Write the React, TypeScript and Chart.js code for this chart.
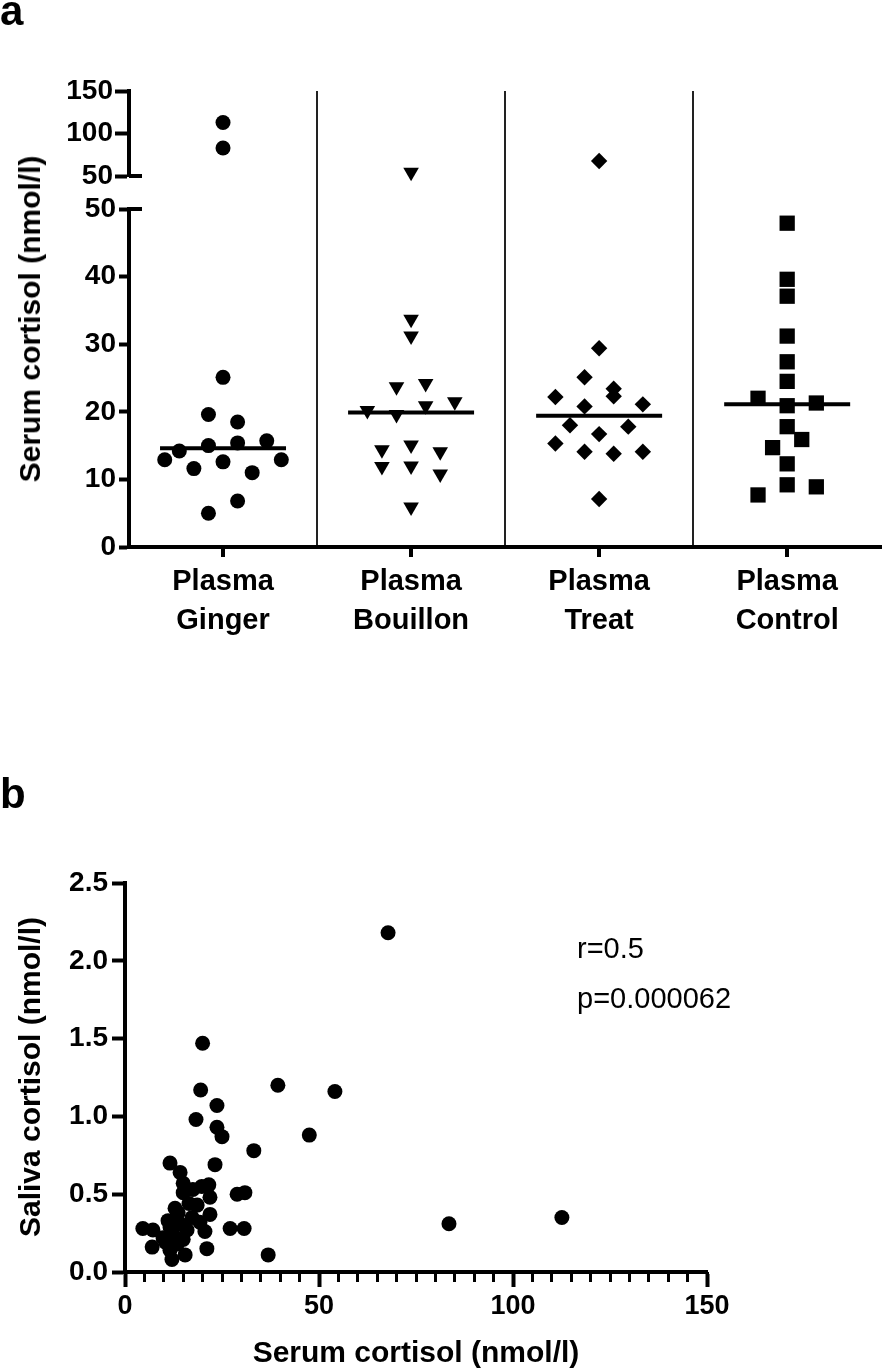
import React, { useEffect, useRef } from 'react';
import { Chart, registerables } from 'chart.js';

Chart.register(...registerables);
Chart.defaults.font.family = "'Liberation Sans', Arial, sans-serif";
Chart.defaults.color = '#000';

// ---------- Panel a data ----------
const groupNames = ['Plasma Ginger', 'Plasma Bouillon', 'Plasma Treat', 'Plasma Control'];
const gingerSerum = [5.0, 6.8, 12.9, 11.6, 12.6, 11.0, 12.9, 14.2, 15.0, 15.4, 15.7, 19.6, 18.5, 25.1, 83.0, 113.0];
const bouillonSerum = [5.9, 11.9, 12.0, 10.8, 14.4, 15.1, 14.1, 20.2, 19.6, 20.9, 21.5, 23.7, 24.2, 31.2, 33.7, 54.5];
const treatSerum = [7.1, 15.3, 14.1, 13.8, 14.1, 18.0, 16.7, 17.8, 22.2, 20.8, 22.3, 21.1, 25.1, 23.4, 29.4, 67.6];
const controlSerum = [7.7, 9.2, 8.9, 12.3, 14.7, 15.9, 17.8, 22.0, 20.9, 21.3, 24.5, 27.4, 31.2, 37.1, 39.6, 47.9];
const groupValues = [gingerSerum, bouillonSerum, treatSerum, controlSerum];
const topTicksA = [50, 100, 150];
const bottomTicksA = [0, 10, 20, 30, 40, 50];

// ---------- Panel b data ----------
const scatterSerum = [
  67.8, 112.6, 83.5, 39.4, 54.1, 47.5, 33.2, 36.9, 20.0, 19.5,
  23.7, 18.3, 23.7, 25.0, 23.2, 11.6, 14.2, 28.9, 30.9, 27.1,
  30.7, 21.6, 17.5, 15.0, 21.9, 18.6, 12.9, 21.9, 17.3, 11.1,
  14.2, 4.6, 7.2, 20.6, 12.4, 9.8, 15.0, 7.0, 21.1, 11.6,
  15.5, 12.1, 13.5, 15.0, 19.8, 13.7, 11.6, 16.0, 13.4, 10.5,
  16.5, 19.3,
];
const scatterSaliva = [
  2.18, 0.35, 0.31, 1.20, 1.16, 0.88, 0.78, 0.11, 1.47, 1.17,
  1.07, 0.98, 0.93, 0.87, 0.69, 0.70, 0.64, 0.50, 0.51, 0.28,
  0.28, 0.56, 0.53, 0.51, 0.48, 0.43, 0.41, 0.37, 0.35, 0.33,
  0.31, 0.28, 0.27, 0.26, 0.24, 0.22, 0.21, 0.16, 0.15, 0.14,
  0.11, 0.08, 0.18, 0.57, 0.55, 0.38, 0.29, 0.27, 0.21, 0.19,
  0.44, 0.32,
];
const corrText = ['r=0.5', 'p=0.000062'];

// ---------- helpers ----------
const BREAK_AT = 50;
const LOW_H = 338;
const GAP_H = 33;
const TOP_H = 85;
const toPx = (v: number) =>
  v <= BREAK_AT ? (v * LOW_H) / BREAK_AT : LOW_H + GAP_H + ((v - BREAK_AT) * TOP_H) / 100;

function swarmOffsets(values: number[], step: number, rowPx: number): number[] {
  const idx = values.map((_, i) => i).sort((a, b) => values[a] - values[b]);
  const offsets = new Array(values.length).fill(0);
  let row: number[] = [];
  const flush = () => {
    const r = [...row].sort((a, b) => a - b);
    r.forEach((k, j) => (offsets[k] = (j - (r.length - 1) / 2) * step));
    row = [];
  };
  for (const k of idx) {
    if (row.length && toPx(values[k]) - toPx(values[row[0]]) >= rowPx) flush();
    row.push(k);
  }
  if (row.length) flush();
  return offsets;
}

const median = (a: number[]) => {
  const s = [...a].sort((p, q) => p - q);
  const n = s.length;
  return n % 2 ? s[(n - 1) / 2] : (s[n / 2 - 1] + s[n / 2]) / 2;
};

const markerStyle = ['circle', 'triangle', 'rectRot', 'rect'];
const markerRotation = [0, 180, 0, 0];
const markerRadius = [7.5, 9, 8.2, 10.8];

export default function App() {
  const refA = useRef<HTMLCanvasElement>(null);
  const refB = useRef<HTMLCanvasElement>(null);

  useEffect(() => {
    const datasetsA: any[] = [];
    groupValues.forEach((vals, i) => {
      const offs = swarmOffsets(vals, 0.155, 16);
      const low: any[] = [];
      const high: any[] = [];
      vals.forEach((v, k) => {
        const p = { x: i + offs[k], y: v };
        if (v <= BREAK_AT) low.push(p);
        else high.push(p);
      });
      const common = {
        type: 'scatter',
        backgroundColor: '#000',
        borderColor: '#000',
        borderWidth: 0,
        pointStyle: markerStyle[i],
        rotation: markerRotation[i],
        pointRadius: markerRadius[i],
        pointHoverRadius: markerRadius[i],
        clip: false,
      };
      datasetsA.push({ ...common, data: low, xAxisID: 'x', yAxisID: 'yBot' });
      datasetsA.push({ ...common, data: high, xAxisID: 'x', yAxisID: 'yTop' });
      const m = median(vals);
      datasetsA.push({
        type: 'line',
        data: [
          { x: i - 0.335, y: m },
          { x: i + 0.335, y: m },
        ],
        borderColor: '#000',
        borderWidth: 4,
        pointRadius: 0,
        showLine: true,
        xAxisID: 'x',
        yAxisID: 'yBot',
      });
    });

    const tickFontA = { size: 28, weight: 'bold' as const };
    const isHalf = (v: number) => !Number.isInteger(v);

    const chartA = new Chart(refA.current!, {
      type: 'scatter',
      data: { datasets: datasetsA },
      options: {
        responsive: false,
        animation: false,
        layout: { padding: { top: 91, right: 2, left: 0, bottom: 0 } },
        plugins: { legend: { display: false }, tooltip: { enabled: false } },
        scales: {
          x: {
            type: 'linear',
            min: -0.5,
            max: 3.5,
            afterBuildTicks: (s: any) => {
              const t: any[] = [];
              for (let v = 0; v <= groupNames.length - 1 + 1e-9; v += 0.5) t.push({ value: v });
              s.ticks = t;
            },
            afterFit: (s: any) => {
              s.height = 113;
            },
            ticks: {
              autoSkip: false,
              maxRotation: 0,
              padding: 5,
              font: { size: 29, weight: 'bold', lineHeight: 39 / 29 },
              callback: (v: any) =>
                isHalf(Number(v)) ? '' : groupNames[Number(v)].split(' '),
            },
            grid: {
              drawOnChartArea: true,
              drawTicks: true,
              tickLength: 10,
              color: (c: any) => (c.tick && isHalf(c.tick.value) ? '#222' : 'rgba(0,0,0,0)'),
              lineWidth: 2,
              tickColor: (c: any) => (c.tick && isHalf(c.tick.value) ? 'rgba(0,0,0,0)' : '#000'),
              tickWidth: 4,
            },
            border: { display: true, color: '#000', width: 4 },
          },
          yBot: {
            type: 'linear',
            position: 'left',
            stack: 'a',
            stackWeight: LOW_H,
            min: bottomTicksA[0],
            max: bottomTicksA[bottomTicksA.length - 1],
            afterBuildTicks: (s: any) => {
              s.ticks = bottomTicksA.map((v) => ({ value: v }));
            },
            afterFit: (s: any) => {
              s.width = 129;
            },
            ticks: { font: tickFontA, padding: 3, autoSkip: false },
            grid: { drawOnChartArea: false, tickLength: 10, tickWidth: 4, color: '#000' },
            border: { color: '#000', width: 4 },
          },
          yGap: {
            type: 'linear',
            position: 'left',
            stack: 'a',
            stackWeight: GAP_H,
            min: 0,
            max: 1,
            afterFit: (s: any) => {
              s.width = 129;
            },
            ticks: { display: false },
            grid: { display: false },
            border: { display: false },
          },
          yTop: {
            type: 'linear',
            position: 'left',
            stack: 'a',
            stackWeight: TOP_H,
            min: topTicksA[0],
            max: topTicksA[topTicksA.length - 1],
            afterBuildTicks: (s: any) => {
              s.ticks = topTicksA.map((v) => ({ value: v }));
            },
            afterFit: (s: any) => {
              s.width = 129;
            },
            ticks: { font: tickFontA, padding: 2, autoSkip: false },
            grid: { drawOnChartArea: false, tickLength: 14, tickWidth: 4, color: '#000' },
            border: { color: '#000', width: 4 },
          },
        },
      } as any,
      plugins: [
        {
          id: 'breakMarks',
          afterDraw(chart: any) {
            const { ctx, chartArea } = chart;
            ctx.save();
            ctx.strokeStyle = '#000';
            ctx.lineWidth = 4;
            [chart.scales.yTop.getPixelForValue(BREAK_AT), chart.scales.yBot.getPixelForValue(BREAK_AT)].forEach(
              (y: number) => {
                ctx.beginPath();
                ctx.moveTo(chartArea.left, y);
                ctx.lineTo(chartArea.left + 13, y);
                ctx.stroke();
              }
            );
            ctx.restore();
          },
        },
      ],
    });

    const tickFontB = { size: 28, weight: 'bold' as const };
    const chartB = new Chart(refB.current!, {
      type: 'scatter',
      data: {
        datasets: [
          {
            data: scatterSerum.map((x, i) => ({ x, y: scatterSaliva[i] })),
            backgroundColor: '#000',
            borderWidth: 0,
            pointRadius: 7.5,
            pointHoverRadius: 7.5,
            clip: false,
          } as any,
        ],
      },
      options: {
        responsive: false,
        animation: false,
        layout: { padding: { top: 183, right: 185, left: 0, bottom: 0 } },
        plugins: { legend: { display: false }, tooltip: { enabled: false } },
        scales: {
          x: {
            type: 'linear',
            position: 'bottom',
            min: 0,
            max: 150,
            afterFit: (s: any) => {
              s.height = 98;
            },
            ticks: { stepSize: 50, font: { size: 27, weight: 'bold' }, padding: 3, maxRotation: 0 },
            grid: { drawOnChartArea: false, tickLength: 15, tickWidth: 4, color: '#000' },
            border: { color: '#000', width: 4 },
          },
          x2: {
            type: 'linear',
            axis: 'x',
            position: { y: 0 },
            min: 0,
            max: 150,
            ticks: { stepSize: 5, display: false },
            grid: { drawOnChartArea: false, tickLength: 10, tickWidth: 3, color: '#000' },
            border: { display: false },
          },
          y: {
            type: 'linear',
            position: 'left',
            min: 0,
            max: 2.5,
            afterFit: (s: any) => {
              s.width = 125;
            },
            ticks: {
              stepSize: 0.5,
              font: tickFontB,
              padding: 4,
              autoSkip: false,
              callback: (v: any) => Number(v).toFixed(1),
            },
            grid: { drawOnChartArea: false, tickLength: 13, tickWidth: 4, color: '#000' },
            border: { color: '#000', width: 4 },
          },
        },
      } as any,
    });

    return () => {
      chartA.destroy();
      chartB.destroy();
    };
  }, []);

  const abs = (extra: React.CSSProperties): React.CSSProperties => ({
    position: 'absolute',
    whiteSpace: 'nowrap',
    lineHeight: 1,
    color: '#000',
    fontFamily: "'Liberation Sans', Arial, sans-serif",
    ...extra,
  });

  return (
    <div style={{ position: 'absolute', left: 0, top: 0, width: 892, height: 1370, background: '#fff', overflow: 'hidden' }}>
      <canvas ref={refA} width={892} height={660} style={{ position: 'absolute', left: 0, top: 0, display: 'block' }} />
      <canvas ref={refB} width={892} height={670} style={{ position: 'absolute', left: 0, top: 700, display: 'block' }} />

      <div style={abs({ left: 0, top: -10, fontSize: 42, fontWeight: 'bold' })}>a</div>
      <div style={abs({ left: 0, top: 773, fontSize: 42, fontWeight: 'bold' })}>b</div>

      <div
        style={abs({
          left: 30,
          top: 319,
          fontSize: 30,
          fontWeight: 'bold',
          transform: 'translate(-50%, -50%) rotate(-90deg)',
        })}
      >
        Serum cortisol (nmol/l)
      </div>
      <div
        style={abs({
          left: 30,
          top: 1077,
          fontSize: 30,
          fontWeight: 'bold',
          transform: 'translate(-50%, -50%) rotate(-90deg)',
        })}
      >
        Saliva cortisol (nmol/l)
      </div>
      <div
        style={abs({
          left: 416,
          top: 1352,
          fontSize: 30,
          fontWeight: 'bold',
          transform: 'translate(-50%, -50%)',
        })}
      >
        Serum cortisol (nmol/l)
      </div>
      <div style={abs({ left: 577, top: 948, fontSize: 29, transform: 'translateY(-50%)' })}>{corrText[0]}</div>
      <div style={abs({ left: 577, top: 998, fontSize: 29, transform: 'translateY(-50%)' })}>{corrText[1]}</div>
    </div>
  );
}
